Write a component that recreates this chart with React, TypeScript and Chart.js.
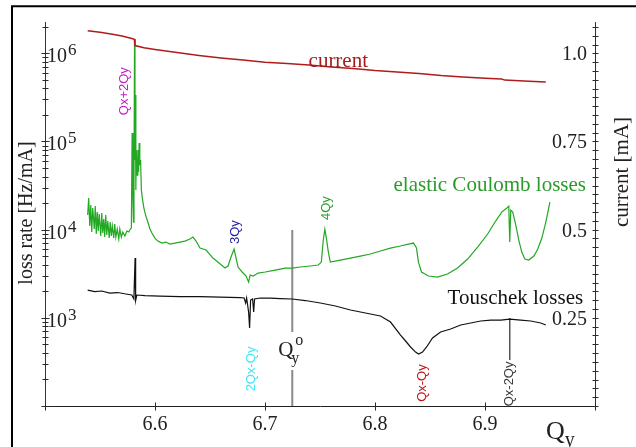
import React, { useEffect, useRef } from "react";
import { Chart, registerables } from "chart.js";

Chart.register(...registerables);

const SERIF = '"Liberation Serif", "Times New Roman", Times, serif';
const SANS = '"Liberation Sans", Arial, sans-serif';

// ---- axis ticks ----
const xTickValues = [6.5, 6.6, 6.7, 6.8, 6.9, 7.0];
const xTickLabels = ["", "6.6", "6.7", "6.8", "6.9", ""];
const lossLabelExponents = [3, 4, 5, 6];
const currentTickValues = [0.25, 0.5, 0.75, 1.0];
const currentTickLabels = ["0.25", "0.5", "0.75", "1.0"];

// ---- series: [Q_y, value] ----
const currentPoints: [number, number][] = [
  [6.5388, 1.064], [6.55, 1.06], [6.56, 1.055], [6.57, 1.049], [6.579, 1.042],
  [6.5812, 1.04], [6.5818, 1.022], [6.59, 1.016], [6.6, 1.011], [6.62, 1.002],
  [6.64, 0.994], [6.66, 0.987], [6.68, 0.981], [6.7, 0.975], [6.72, 0.971],
  [6.74, 0.967], [6.76, 0.961], [6.78, 0.957], [6.8, 0.951], [6.82, 0.947],
  [6.84, 0.943], [6.86, 0.937], [6.88, 0.933], [6.9, 0.929], [6.915, 0.927],
  [6.918, 0.924], [6.94, 0.921], [6.9553, 0.919],
];

const coulombPoints: [number, number][] = [
  [6.5388, 14640], [6.5397, 22820], [6.5407, 10990], [6.5416, 19010], [6.5425, 9390],
  [6.5434, 17580], [6.5448, 10160], [6.5457, 18520], [6.5466, 8920], [6.5475, 15830],
  [6.5484, 9640], [6.5493, 15030], [6.5507, 8460], [6.5516, 15420], [6.5525, 9150],
  [6.5534, 13190], [6.5543, 8240], [6.5552, 14640], [6.5562, 8690], [6.5571, 12520],
  [6.5584, 8030], [6.5593, 12200], [6.5603, 8460], [6.5612, 10990], [6.5625, 8030],
  [6.5634, 11570], [6.5644, 8240], [6.5657, 10160], [6.5671, 7825], [6.568, 10160],
  [6.5694, 8240], [6.5707, 9390], [6.5726, 8460], [6.5744, 9640], [6.5762, 9390],
  [6.5776, 10160], [6.5785, 10420], [6.5792, 124500], [6.5799, 21660], [6.5804, 12200],
  [6.5809, 36500], [6.5814, 1449000], [6.5818, 61500], [6.5821, 335800], [6.5826, 28100],
  [6.583, 79900], [6.5838, 41600], [6.5844, 79900], [6.5851, 45000], [6.5856, 95900],
  [6.5862, 54000], [6.5869, 61500], [6.5876, 28100], [6.5885, 22820], [6.5899, 17580],
  [6.5917, 14260], [6.5935, 12200], [6.5954, 10160], [6.5972, 9150], [6.5999, 8030],
  [6.6026, 7425], [6.6063, 7050], [6.6099, 7230], [6.6135, 6865], [6.6181, 7050],
  [6.6227, 7230], [6.6272, 7425], [6.6318, 7825], [6.6345, 8240], [6.6373, 7425],
  [6.6409, 6185], [6.6464, 5870], [6.6527, 4760], [6.6582, 4180], [6.6637, 3670],
  [6.6664, 3870], [6.6691, 4890], [6.6719, 6030], [6.6737, 4760], [6.6755, 3770],
  [6.6792, 3310], [6.6828, 2980], [6.6851, 2550], [6.6865, 3060], [6.6892, 2980],
  [6.6938, 3220], [6.7002, 3310], [6.7093, 3480], [6.7184, 3670], [6.7248, 3670],
  [6.7321, 3770], [6.7412, 3870], [6.7485, 3970], [6.7512, 4290], [6.753, 7620],
  [6.7544, 10160], [6.7558, 8030], [6.7576, 5570], [6.7594, 4290], [6.7685, 4520],
  [6.7776, 4760], [6.7867, 5020], [6.7958, 5290], [6.8049, 5720], [6.814, 6185],
  [6.8231, 6520], [6.8304, 6865], [6.835, 7050], [6.8377, 6185], [6.8395, 4290],
  [6.8423, 3310], [6.8486, 2980], [6.8568, 2900], [6.8659, 3140], [6.8751, 3670],
  [6.8842, 4640], [6.8933, 6350], [6.9024, 8920], [6.9097, 12520], [6.9152, 15830],
  [6.9198, 17580], [6.9216, 18520], [6.9225, 7230], [6.9234, 16680], [6.9252, 15830],
  [6.928, 11280], [6.9307, 7620], [6.9334, 5570], [6.9362, 4640], [6.9398, 4520],
  [6.9444, 5020], [6.948, 6030], [6.9517, 8030], [6.9553, 12200], [6.959, 20550],
];

const touschekPoints: [number, number][] = [
  [6.5388, 2066], [6.5452, 1987], [6.5516, 2014], [6.5589, 1911], [6.5662, 1936],
  [6.5735, 1862], [6.5789, 1814], [6.5808, 1634], [6.5819, 4760], [6.5824, 1571],
  [6.5835, 1814], [6.5908, 1789], [6.6045, 1766], [6.6227, 1743], [6.6409, 1743],
  [6.6591, 1721], [6.6774, 1699], [6.681, 1677], [6.6824, 1472], [6.6833, 1677],
  [6.6851, 1164], [6.686, 766], [6.6869, 1591], [6.6887, 1634], [6.6897, 1164],
  [6.6905, 1634], [6.6956, 1677], [6.7047, 1677], [6.7138, 1655], [6.7248, 1634],
  [6.7366, 1571], [6.7503, 1472], [6.764, 1361], [6.7777, 1226], [6.7913, 1134],
  [6.805, 1048], [6.8141, 896], [6.8232, 638], [6.8278, 546], [6.8323, 467],
  [6.8369, 409], [6.8396, 389], [6.8432, 409], [6.8469, 467], [6.8523, 590],
  [6.8596, 690], [6.8688, 746], [6.8779, 829], [6.887, 873], [6.8961, 920],
  [6.9053, 944], [6.9144, 944], [6.9225, 969], [6.9325, 944], [6.9416, 920],
  [6.9507, 873], [6.9553, 829],
];

// ---- markers ----
const qyZeroQ = 6.7248;
const qyZeroSpans = [[9900, 690], [256, 100]];
const qyZeroLabelRate = 369;
const qxm2qyQ = 6.9225;
const qxm2qySpan = [995, 332];

// ---- resonance labels ----
const resonanceNames = ["Qx+2Qy", "3Qy", "4Qy", "2Qx-Qy", "Qx-Qy", "Qx-2Qy"];
const resonanceLabelQ = [6.5726, 6.673, 6.7557, 6.6874, 6.8435, 6.9225];
const resonanceLabelRate = [372000, 9390, 17580, 263, 182, 178];
const resonanceColors = ["#c81ec8", "#1c1ca0", "#2c9c2c", "#3ee6f6", "#c41414", "#3a3a3a"];

// ---- series labels ----
const seriesLabelTexts = ["current", "elastic Coulomb losses", "Touschek losses"];
const seriesLabelQ = [6.7396, 6.8168, 6.866];
const seriesLabelAxis = ["yCur", "yLoss", "yLoss"];
const seriesLabelValue = [0.976, 32040, 1677];
const seriesLabelColors = ["#a51c1c", "#2a9a2a", "#111111"];

const overlayPlugin = {
  id: "overlay",
  afterDraw(chart: any) {
    const ctx = chart.ctx as CanvasRenderingContext2D;
    const a = chart.chartArea;
    const xs = chart.scales.x;
    const yl = chart.scales.yLoss;
    const yr = chart.scales.yCur;
    ctx.save();

    // frame
    ctx.strokeStyle = "#000";
    ctx.lineWidth = 2;
    ctx.beginPath();
    ctx.moveTo(12, 447);
    ctx.lineTo(12, 6.3);
    ctx.lineTo(636, 6.3);
    ctx.stroke();

    // tick marks crossing axes
    const axL = Math.round(a.left) + 0.5;
    const axR = Math.round(a.right) + 0.5;
    const axB = Math.round(a.bottom) + 0.5;
    ctx.strokeStyle = "#2a2a2a";
    ctx.lineWidth = 1;
    ctx.beginPath();
    for (const t of xs.ticks) {
      const p = Math.round(xs.getPixelForValue(t.value)) + 0.5;
      ctx.moveTo(p, axB - 4);
      ctx.lineTo(p, axB + 4);
    }
    for (const t of yl.ticks) {
      const p = Math.round(yl.getPixelForValue(t.value)) + 0.5;
      const l = t.major ? 4 : 3;
      ctx.moveTo(axL - l, p);
      ctx.lineTo(axL + l, p);
    }
    for (const t of yr.ticks) {
      const p = Math.round(yr.getPixelForValue(t.value)) + 0.5;
      ctx.moveTo(axR - 3, p);
      ctx.lineTo(axR + 3, p);
    }
    ctx.stroke();

    // left decade labels 10^n
    ctx.fillStyle = "#222";
    ctx.textAlign = "left";
    ctx.textBaseline = "alphabetic";
    for (const e of lossLabelExponents) {
      const py = yl.getPixelForValue(Math.pow(10, e));
      ctx.font = `20px ${SERIF}`;
      const bx = a.left + 2;
      ctx.fillText("10", bx, py + 9);
      const w = ctx.measureText("10").width;
      ctx.font = `17px ${SERIF}`;
      ctx.fillText(String(e), bx + w + 1, py + 2);
    }

    // right labels
    ctx.font = `20px ${SERIF}`;
    ctx.textAlign = "right";
    currentTickValues.forEach((v, i) => {
      const py = yr.getPixelForValue(v);
      ctx.fillText(currentTickLabels[i], a.right - 8, py + 7);
    });

    // axis titles
    ctx.textAlign = "center";
    ctx.textBaseline = "middle";
    ctx.save();
    ctx.translate(a.left - 18, (a.top + a.bottom) / 2 - 1);
    ctx.rotate(-Math.PI / 2);
    ctx.font = `20px ${SERIF}`;
    ctx.fillText("loss rate [Hz/mA]", 0, 0);
    ctx.restore();

    ctx.save();
    ctx.translate(a.right + 27, a.top + 150);
    ctx.rotate(-Math.PI / 2);
    ctx.font = `21px ${SERIF}`;
    ctx.fillText("current [mA]", 0, 0);
    ctx.restore();

    // Q_y axis title
    ctx.textAlign = "left";
    ctx.textBaseline = "alphabetic";
    ctx.font = `26px ${SERIF}`;
    const qx = a.right - 49;
    ctx.fillText("Q", qx, a.bottom + 33);
    const qw = ctx.measureText("Q").width;
    ctx.font = `20px ${SERIF}`;
    ctx.fillText("y", qx + qw, a.bottom + 40);

    // series labels
    seriesLabelTexts.forEach((s, i) => {
      const sc = chart.scales[seriesLabelAxis[i]];
      const px = xs.getPixelForValue(seriesLabelQ[i]);
      const py = sc.getPixelForValue(seriesLabelValue[i]);
      ctx.font = `21px ${SERIF}`;
      ctx.fillStyle = seriesLabelColors[i];
      ctx.textAlign = "left";
      ctx.textBaseline = "middle";
      ctx.fillText(s, px, py);
    });

    // resonance labels (rotated)
    resonanceNames.forEach((s, i) => {
      const px = xs.getPixelForValue(resonanceLabelQ[i]);
      const py = yl.getPixelForValue(resonanceLabelRate[i]);
      ctx.save();
      ctx.translate(px, py);
      ctx.rotate(-Math.PI / 2);
      ctx.font = `13px ${SANS}`;
      ctx.fillStyle = resonanceColors[i];
      ctx.textAlign = "center";
      ctx.textBaseline = "middle";
      ctx.fillText(s, 0, 0);
      ctx.restore();
    });

    // Q_y^o label at the nominal tune line
    const lx = xs.getPixelForValue(qyZeroQ);
    const ly = yl.getPixelForValue(qyZeroLabelRate);
    ctx.fillStyle = "#222";
    ctx.textAlign = "left";
    ctx.textBaseline = "alphabetic";
    ctx.font = `21px ${SERIF}`;
    ctx.fillText("Q", lx - 14, ly);
    ctx.font = `16px ${SERIF}`;
    ctx.fillText("y", lx - 1, ly + 7);
    ctx.fillText("o", lx + 3, ly - 11);

    ctx.restore();
  },
};

export default function App() {
  const ref = useRef<HTMLCanvasElement | null>(null);

  useEffect(() => {
    const canvas = ref.current;
    if (!canvas) return;
    const toXY = (pts: [number, number][]) => pts.map(([x, y]) => ({ x, y }));
    const qyZeroData: any[] = [];
    qyZeroSpans.forEach((span, i) => {
      if (i > 0) qyZeroData.push({ x: qyZeroQ, y: null });
      qyZeroData.push({ x: qyZeroQ, y: span[0] }, { x: qyZeroQ, y: span[1] });
    });

    const chart = new Chart(canvas, {
      type: "line",
      data: {
        datasets: [
          {
            label: "current",
            data: toXY(currentPoints),
            yAxisID: "yCur",
            borderColor: "#b01c1c",
            borderWidth: 1.5,
            pointRadius: 0,
            order: 1,
          },
          {
            label: "elastic Coulomb losses",
            data: toXY(coulombPoints),
            yAxisID: "yLoss",
            borderColor: "#22a822",
            borderWidth: 1.2,
            pointRadius: 0,
            order: 2,
          },
          {
            label: "Touschek losses",
            data: toXY(touschekPoints),
            yAxisID: "yLoss",
            borderColor: "#111111",
            borderWidth: 1.2,
            pointRadius: 0,
            order: 3,
          },
          {
            label: "Qy0",
            data: qyZeroData,
            yAxisID: "yLoss",
            borderColor: "#8a8a8a",
            borderWidth: 2,
            pointRadius: 0,
            spanGaps: false,
            order: 10,
          },
          {
            label: "Qx-2Qy",
            data: [
              { x: qxm2qyQ, y: qxm2qySpan[0] },
              { x: qxm2qyQ, y: qxm2qySpan[1] },
            ],
            yAxisID: "yLoss",
            borderColor: "#555555",
            borderWidth: 1.5,
            pointRadius: 0,
            order: 11,
          },
        ],
      } as any,
      options: {
        responsive: false,
        animation: false,
        devicePixelRatio: 1,
        events: [],
        layout: { padding: { left: 45, right: 41, top: 22, bottom: 0 } },
        plugins: { legend: { display: false }, tooltip: { enabled: false } },
        scales: {
          x: {
            type: "linear",
            position: "bottom",
            min: 6.5,
            max: 7.0,
            grid: { display: false, drawTicks: false },
            border: { display: true, color: "#222", width: 1 },
            ticks: {
              padding: 7,
              color: "#222",
              font: { family: SERIF, size: 20 },
              maxRotation: 0,
              autoSkip: false,
              callback: (_v: any, i: number) => xTickLabels[i] ?? "",
            },
            afterBuildTicks: (s: any) => {
              s.ticks = xTickValues.map((v) => ({ value: v }));
            },
            afterFit: (s: any) => {
              s.height = 41;
            },
          },
          yLoss: {
            type: "logarithmic",
            position: "left",
            min: 100,
            max: 2.265e6,
            grid: { display: false, drawTicks: false },
            border: { display: true, color: "#333", width: 1 },
            ticks: { display: false },
            afterBuildTicks: (s: any) => {
              const t: any[] = [];
              for (let e = 2; e <= 6; e++) {
                for (let m = 1; m <= 9; m++) {
                  const v = m * Math.pow(10, e);
                  if (v <= s.max) t.push({ value: v, major: m === 1 });
                }
              }
              s.ticks = t;
            },
            afterFit: (s: any) => {
              s.width = 0;
            },
          },
          yCur: {
            type: "linear",
            position: "right",
            min: 0,
            max: 1.0888,
            grid: { display: false, drawTicks: false },
            border: { display: true, color: "#333", width: 1 },
            ticks: { display: false },
            afterBuildTicks: (s: any) => {
              const t: any[] = [];
              for (let i = 0; i <= 43; i++) t.push({ value: Math.round(i * 25) / 1000 });
              s.ticks = t;
            },
            afterFit: (s: any) => {
              s.width = 0;
            },
          },
        },
      } as any,
      plugins: [overlayPlugin],
    });

    return () => chart.destroy();
  }, []);

  return (
    <div
      style={{
        position: "fixed",
        left: 0,
        top: 0,
        width: 636,
        height: 447,
        background: "#fff",
        overflow: "hidden",
      }}
    >
      <canvas ref={ref} width={636} height={447} style={{ display: "block", width: 636, height: 447 }} />
    </div>
  );
}
